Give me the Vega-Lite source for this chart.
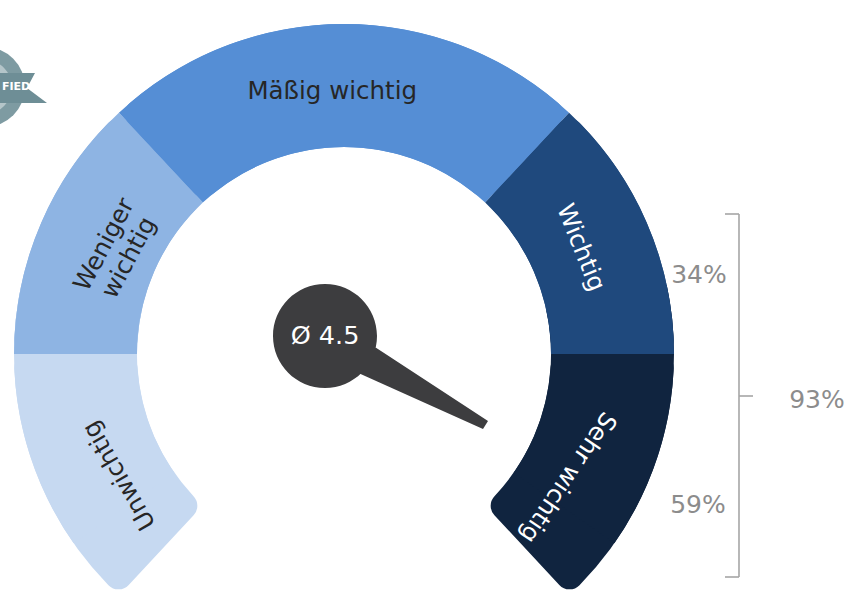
{
  "$schema": "https://vega.github.io/schema/vega-lite/v6.json",
  "width": 859,
  "height": 605,
  "autosize": "none",
  "padding": 0,
  "background": "white",
  "config": {"view": {"stroke": null}, "font": "DejaVu Sans", "text": {"font": "DejaVu Sans"}},
  "datasets": {
    "levels": [
      {"rank": 1, "cat": "Unwichtig", "span": 47},
      {"rank": 2, "cat": "Weniger wichtig", "span": 47},
      {"rank": 3, "cat": "Mäßig wichtig", "span": 86},
      {"rank": 4, "cat": "Wichtig", "span": 47},
      {"rank": 5, "cat": "Sehr wichtig", "span": 47}
    ],
    "shares": [
      {"group": "Wichtig", "share": 0.34},
      {"group": "Sehr wichtig", "share": 0.59},
      {"group": "Wichtig + Sehr wichtig", "share": 0.93}
    ],
    "mean": [{"label": "Ø 4.5", "mean": 4.5}],
    "badge": [{"badge": "FIED"}]
  },
  "layer": [
    {
      "data": {"name": "levels"},
      "mark": {"type": "arc", "radius": 330, "radius2": 207, "cornerRadius": 14},
      "encoding": {
        "x": {"datum": 0, "type": "quantitative", "scale": {"domain": [-344, 515], "nice": false, "zero": false}, "axis": null},
        "y": {"datum": 0, "type": "quantitative", "scale": {"domain": [-251, 354], "nice": false, "zero": false}, "axis": null},
        "theta": {"field": "span", "type": "quantitative", "stack": true, "scale": {"domain": [0, 274], "range": [-2.3911, 2.3911]}},
        "order": {"field": "rank", "type": "quantitative"},
        "color": {"field": "cat", "type": "nominal", "scale": {"domain": ["Unwichtig", "Weniger wichtig", "Mäßig wichtig", "Wichtig", "Sehr wichtig"], "range": ["#c6d9f1", "#8eb4e3", "#558ed5", "#1f497d", "#10243f"]}, "legend": null}
      }
    },
    {
      "data": {"name": "levels"},
      "mark": {"type": "arc", "radius": 330, "radius2": 207, "thetaOffset": 0.21, "theta2Offset": 0.21},
      "encoding": {
        "x": {"datum": 0, "type": "quantitative", "scale": {"domain": [-344, 515], "nice": false, "zero": false}, "axis": null},
        "y": {"datum": 0, "type": "quantitative", "scale": {"domain": [-251, 354], "nice": false, "zero": false}, "axis": null},
        "theta": {"field": "span", "type": "quantitative", "stack": true, "scale": {"domain": [0, 274], "range": [-2.3911, 2.3911]}},
        "order": {"field": "rank", "type": "quantitative"},
        "color": {"field": "cat", "type": "nominal", "legend": null},
        "opacity": {"condition": {"test": "datum.rank === 1", "value": 1}, "value": 0}
      }
    },
    {
      "data": {"name": "levels"},
      "mark": {"type": "arc", "radius": 330, "radius2": 207, "thetaOffset": -0.21, "theta2Offset": -0.21},
      "encoding": {
        "x": {"datum": 0, "type": "quantitative", "scale": {"domain": [-344, 515], "nice": false, "zero": false}, "axis": null},
        "y": {"datum": 0, "type": "quantitative", "scale": {"domain": [-251, 354], "nice": false, "zero": false}, "axis": null},
        "theta": {"field": "span", "type": "quantitative", "stack": true, "scale": {"domain": [0, 274], "range": [-2.3911, 2.3911]}},
        "order": {"field": "rank", "type": "quantitative"},
        "color": {"field": "cat", "type": "nominal", "legend": null},
        "opacity": {"condition": {"test": "datum.rank === 5", "value": 1}, "value": 0}
      }
    },
    {
      "data": {"name": "levels"},
      "mark": {"type": "arc", "radius": 330, "radius2": 207},
      "encoding": {
        "x": {"datum": 0, "type": "quantitative", "scale": {"domain": [-344, 515], "nice": false, "zero": false}, "axis": null},
        "y": {"datum": 0, "type": "quantitative", "scale": {"domain": [-251, 354], "nice": false, "zero": false}, "axis": null},
        "theta": {"field": "span", "type": "quantitative", "stack": true, "scale": {"domain": [0, 274], "range": [-2.3911, 2.3911]}},
        "order": {"field": "rank", "type": "quantitative"},
        "color": {"field": "cat", "type": "nominal", "legend": null},
        "opacity": {"condition": {"test": "datum.rank >= 2 && datum.rank <= 4", "value": 1}, "value": 0}
      }
    },
    {
      "data": {"name": "levels"},
      "mark": {"type": "text", "radius": 255, "thetaOffset": -0.0855, "angle": -120, "fontSize": 24.5, "color": "#262626", "align": "center", "baseline": "middle"},
      "encoding": {
        "x": {"datum": 0, "type": "quantitative", "scale": {"domain": [-344, 515], "nice": false, "zero": false}, "axis": null},
        "y": {"datum": 0, "type": "quantitative", "scale": {"domain": [-251, 354], "nice": false, "zero": false}, "axis": null},
        "theta": {"field": "span", "type": "quantitative", "stack": true, "scale": {"domain": [0, 274], "range": [-2.3911, 2.3911]}},
        "order": {"field": "rank", "type": "quantitative"},
        "detail": {"field": "cat", "type": "nominal"},
        "text": {"field": "cat", "type": "nominal"},
        "opacity": {"condition": {"test": "datum.rank === 1", "value": 1}, "value": 0}
      }
    },
    {
      "data": {"name": "levels"},
      "mark": {"type": "text", "radius": 263, "thetaOffset": 0.0175, "angle": -62, "fontSize": 24.5, "color": "#262626", "align": "center", "baseline": "middle", "lineBreak": " ", "lineHeight": 28},
      "encoding": {
        "x": {"datum": 0, "type": "quantitative", "scale": {"domain": [-344, 515], "nice": false, "zero": false}, "axis": null},
        "y": {"datum": 0, "type": "quantitative", "scale": {"domain": [-251, 354], "nice": false, "zero": false}, "axis": null},
        "theta": {"field": "span", "type": "quantitative", "stack": true, "scale": {"domain": [0, 274], "range": [-2.3911, 2.3911]}},
        "order": {"field": "rank", "type": "quantitative"},
        "detail": {"field": "cat", "type": "nominal"},
        "text": {"field": "cat", "type": "nominal"},
        "opacity": {"condition": {"test": "datum.rank === 2", "value": 1}, "value": 0}
      }
    },
    {
      "data": {"name": "levels"},
      "mark": {"type": "text", "radius": 262, "thetaOffset": -0.045, "angle": 0, "fontSize": 24.5, "color": "#262626", "align": "center", "baseline": "middle"},
      "encoding": {
        "x": {"datum": 0, "type": "quantitative", "scale": {"domain": [-344, 515], "nice": false, "zero": false}, "axis": null},
        "y": {"datum": 0, "type": "quantitative", "scale": {"domain": [-251, 354], "nice": false, "zero": false}, "axis": null},
        "theta": {"field": "span", "type": "quantitative", "stack": true, "scale": {"domain": [0, 274], "range": [-2.3911, 2.3911]}},
        "order": {"field": "rank", "type": "quantitative"},
        "detail": {"field": "cat", "type": "nominal"},
        "text": {"field": "cat", "type": "nominal"},
        "opacity": {"condition": {"test": "datum.rank === 3", "value": 1}, "value": 0}
      }
    },
    {
      "data": {"name": "levels"},
      "mark": {"type": "text", "radius": 259, "thetaOffset": -0.012, "angle": 68, "fontSize": 24.5, "color": "white", "align": "center", "baseline": "middle"},
      "encoding": {
        "x": {"datum": 0, "type": "quantitative", "scale": {"domain": [-344, 515], "nice": false, "zero": false}, "axis": null},
        "y": {"datum": 0, "type": "quantitative", "scale": {"domain": [-251, 354], "nice": false, "zero": false}, "axis": null},
        "theta": {"field": "span", "type": "quantitative", "stack": true, "scale": {"domain": [0, 274], "range": [-2.3911, 2.3911]}},
        "order": {"field": "rank", "type": "quantitative"},
        "detail": {"field": "cat", "type": "nominal"},
        "text": {"field": "cat", "type": "nominal"},
        "opacity": {"condition": {"test": "datum.rank === 4", "value": 1}, "value": 0}
      }
    },
    {
      "data": {"name": "levels"},
      "mark": {"type": "text", "radius": 255, "thetaOffset": 0.094, "angle": 124, "fontSize": 24.5, "color": "white", "align": "center", "baseline": "middle"},
      "encoding": {
        "x": {"datum": 0, "type": "quantitative", "scale": {"domain": [-344, 515], "nice": false, "zero": false}, "axis": null},
        "y": {"datum": 0, "type": "quantitative", "scale": {"domain": [-251, 354], "nice": false, "zero": false}, "axis": null},
        "theta": {"field": "span", "type": "quantitative", "stack": true, "scale": {"domain": [0, 274], "range": [-2.3911, 2.3911]}},
        "order": {"field": "rank", "type": "quantitative"},
        "detail": {"field": "cat", "type": "nominal"},
        "text": {"field": "cat", "type": "nominal"},
        "opacity": {"condition": {"test": "datum.rank === 5", "value": 1}, "value": 0}
      }
    },
    {
      "data": {"name": "mean"},
      "mark": {"type": "point", "shape": "M30,-2L163,85L158,93L20,31Z M-52,0A52,52 0 1,1 52,0A52,52 0 1,1 -52,0Z", "size": 4, "filled": true, "color": "#3d3d3f", "opacity": 1, "strokeWidth": 0},
      "encoding": {
        "x": {"datum": -19, "type": "quantitative", "scale": {"domain": [-344, 515], "nice": false, "zero": false}, "axis": null},
        "y": {"datum": 18, "type": "quantitative", "scale": {"domain": [-251, 354], "nice": false, "zero": false}, "axis": null}
      }
    },
    {
      "data": {"name": "mean"},
      "mark": {"type": "text", "fontSize": 25.5, "color": "white", "align": "center", "baseline": "middle"},
      "encoding": {
        "x": {"datum": -19, "type": "quantitative", "scale": {"domain": [-344, 515], "nice": false, "zero": false}, "axis": null},
        "y": {"datum": 18, "type": "quantitative", "scale": {"domain": [-251, 354], "nice": false, "zero": false}, "axis": null},
        "text": {"field": "label", "type": "nominal"}
      }
    },
    {
      "data": {"name": "shares"},
      "transform": [{"filter": "datum.group === 'Wichtig'"}],
      "mark": {"type": "text", "fontSize": 25, "color": "#8c8c8c", "align": "center", "baseline": "middle"},
      "encoding": {
        "x": {"datum": 355, "type": "quantitative", "scale": {"domain": [-344, 515], "nice": false, "zero": false}, "axis": null},
        "y": {"datum": 79, "type": "quantitative", "scale": {"domain": [-251, 354], "nice": false, "zero": false}, "axis": null},
        "text": {"field": "share", "type": "quantitative", "format": ".0%"}
      }
    },
    {
      "data": {"name": "shares"},
      "transform": [{"filter": "datum.group === 'Sehr wichtig'"}],
      "mark": {"type": "text", "fontSize": 25, "color": "#8c8c8c", "align": "center", "baseline": "middle"},
      "encoding": {
        "x": {"datum": 354, "type": "quantitative", "scale": {"domain": [-344, 515], "nice": false, "zero": false}, "axis": null},
        "y": {"datum": -151, "type": "quantitative", "scale": {"domain": [-251, 354], "nice": false, "zero": false}, "axis": null},
        "text": {"field": "share", "type": "quantitative", "format": ".0%"}
      }
    },
    {
      "data": {"name": "shares"},
      "transform": [{"filter": "datum.group === 'Wichtig + Sehr wichtig'"}],
      "mark": {"type": "text", "fontSize": 25, "color": "#8c8c8c", "align": "center", "baseline": "middle"},
      "encoding": {
        "x": {"datum": 473, "type": "quantitative", "scale": {"domain": [-344, 515], "nice": false, "zero": false}, "axis": null},
        "y": {"datum": -46, "type": "quantitative", "scale": {"domain": [-251, 354], "nice": false, "zero": false}, "axis": null},
        "text": {"field": "share", "type": "quantitative", "format": ".0%"}
      }
    },
    {
      "data": {"name": "shares"},
      "transform": [{"filter": "datum.group === 'Wichtig + Sehr wichtig'"}],
      "mark": {"type": "rule", "color": "#a6a6a6", "strokeWidth": 1.6},
      "encoding": {
        "x": {"datum": 395, "type": "quantitative", "scale": {"domain": [-344, 515], "nice": false, "zero": false}, "axis": null},
        "y": {"datum": 140, "type": "quantitative", "scale": {"domain": [-251, 354], "nice": false, "zero": false}, "axis": null},
        "y2": {"datum": -223}
      }
    },
    {
      "data": {"name": "shares"},
      "transform": [{"filter": "datum.group === 'Wichtig + Sehr wichtig'"}],
      "mark": {"type": "rule", "color": "#a6a6a6", "strokeWidth": 1.6},
      "encoding": {
        "x": {"datum": 381, "type": "quantitative", "scale": {"domain": [-344, 515], "nice": false, "zero": false}, "axis": null},
        "x2": {"datum": 395},
        "y": {"datum": 140, "type": "quantitative", "scale": {"domain": [-251, 354], "nice": false, "zero": false}, "axis": null}
      }
    },
    {
      "data": {"name": "shares"},
      "transform": [{"filter": "datum.group === 'Wichtig + Sehr wichtig'"}],
      "mark": {"type": "rule", "color": "#a6a6a6", "strokeWidth": 1.6},
      "encoding": {
        "x": {"datum": 381, "type": "quantitative", "scale": {"domain": [-344, 515], "nice": false, "zero": false}, "axis": null},
        "x2": {"datum": 395},
        "y": {"datum": -223, "type": "quantitative", "scale": {"domain": [-251, 354], "nice": false, "zero": false}, "axis": null}
      }
    },
    {
      "data": {"name": "shares"},
      "transform": [{"filter": "datum.group === 'Wichtig + Sehr wichtig'"}],
      "mark": {"type": "rule", "color": "#a6a6a6", "strokeWidth": 1.6},
      "encoding": {
        "x": {"datum": 395, "type": "quantitative", "scale": {"domain": [-344, 515], "nice": false, "zero": false}, "axis": null},
        "x2": {"datum": 409},
        "y": {"datum": -42, "type": "quantitative", "scale": {"domain": [-251, 354], "nice": false, "zero": false}, "axis": null}
      }
    },
    {
      "data": {"name": "badge"},
      "mark": {"type": "point", "shape": "circle", "size": 6400, "filled": true, "color": "#7e9ba2", "opacity": 1, "strokeWidth": 0},
      "encoding": {
        "x": {"datum": -359, "type": "quantitative", "scale": {"domain": [-344, 515], "nice": false, "zero": false}, "axis": null},
        "y": {"datum": 267, "type": "quantitative", "scale": {"domain": [-251, 354], "nice": false, "zero": false}, "axis": null}
      }
    },
    {
      "data": {"name": "badge"},
      "mark": {"type": "point", "shape": "circle", "size": 2916, "filled": true, "color": "#b4c5c9", "opacity": 1, "strokeWidth": 0},
      "encoding": {
        "x": {"datum": -359, "type": "quantitative", "scale": {"domain": [-344, 515], "nice": false, "zero": false}, "axis": null},
        "y": {"datum": 267, "type": "quantitative", "scale": {"domain": [-251, 354], "nice": false, "zero": false}, "axis": null}
      }
    },
    {
      "data": {"name": "badge"},
      "mark": {"type": "point", "shape": "M-60,-14L50,-14L42,1L62,16L-60,16Z", "size": 4, "filled": true, "color": "#6e8e96", "opacity": 1, "strokeWidth": 0},
      "encoding": {
        "x": {"datum": -359, "type": "quantitative", "scale": {"domain": [-344, 515], "nice": false, "zero": false}, "axis": null},
        "y": {"datum": 267, "type": "quantitative", "scale": {"domain": [-251, 354], "nice": false, "zero": false}, "axis": null}
      }
    },
    {
      "data": {"name": "badge"},
      "mark": {"type": "text", "fontSize": 11, "fontWeight": "bold", "color": "white", "align": "left", "baseline": "middle"},
      "encoding": {
        "x": {"datum": -342, "type": "quantitative", "scale": {"domain": [-344, 515], "nice": false, "zero": false}, "axis": null},
        "y": {"datum": 267, "type": "quantitative", "scale": {"domain": [-251, 354], "nice": false, "zero": false}, "axis": null},
        "text": {"field": "badge", "type": "nominal"}
      }
    }
  ]
}
